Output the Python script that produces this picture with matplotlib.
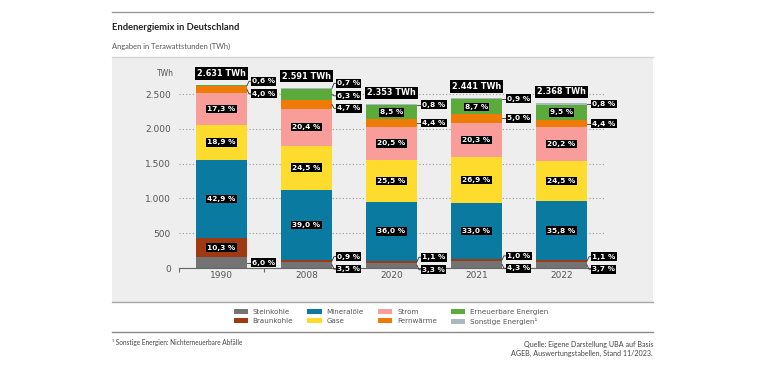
import numpy as np
import matplotlib.pyplot as plt
from matplotlib.patches import Rectangle, Patch
from matplotlib.lines import Line2D

# Endenergiemix in Deutschland, Anteile in % und Summe in TWh
years = ['1990', '2008', '2020', '2021', '2022']
totals = [2631, 2591, 2353, 2441, 2368]

sources = ['Steinkohle', 'Braunkohle', 'Mineralöle', 'Gase', 'Strom',
           'Fernwärme', 'Erneuerbare Energien', 'Sonstige Energien\u00b9']
steinkohle = [6.0, 3.5, 3.3, 4.3, 3.7]
braunkohle = [10.3, 0.9, 1.1, 1.0, 1.1]
mineraloele = [42.9, 39.0, 36.0, 33.0, 35.8]
gase = [18.9, 24.5, 25.5, 26.9, 24.5]
strom = [17.3, 20.4, 20.5, 20.3, 20.2]
fernwaerme = [4.0, 4.7, 4.4, 5.0, 4.4]
erneuerbare = [0.6, 6.3, 8.5, 8.7, 9.5]
sonstige = [0.0, 0.7, 0.8, 0.9, 0.8]

shares = [steinkohle, braunkohle, mineraloele, gase, strom, fernwaerme, erneuerbare, sonstige]
colors = ['#737373', '#9e3912', '#0a7aa1', '#fddc2e', '#f99d9b',
          '#ee7b05', '#5caa3b', '#a9b9c0']

W, H = 770, 385
def fx(px):
    return px / W
def fy(py):
    return 1 - py / H

fig = plt.figure(figsize=(W / 100, H / 100), dpi=100)
fig.patch.set_facecolor('white')

# grey panel behind the chart
fig.add_artist(Rectangle((fx(112), fy(302)), fx(653) - fx(112), (302 - 57) / H,
                         transform=fig.transFigure, fc='#eeeeee', ec='none', zorder=0))
for py, c in [(12, '#9a9a9a'), (57, '#d4d4d4'), (302, '#a8a8a8'), (332, '#8a8a8a')]:
    fig.add_artist(Line2D([fx(112), fx(653)], [fy(py), fy(py)], transform=fig.transFigure,
                          color=c, lw=1.0))

fig.text(fx(112), fy(27), 'Endenergiemix in Deutschland', fontsize=6.75, fontweight='bold',
         family='Lato', color='#222222', va='center')
fig.text(fx(112), fy(46), 'Angaben in Terawattstunden (TWh)', fontsize=5.45,
         family='Lato', color='#555555', va='center')

ax = fig.add_axes([179 / W, 117 / H, 425 / W, 208.8 / H])
ax.patch.set_alpha(0)
ax.set_xlim(-0.5, 4.5)
ax.set_ylim(0, 3000)
for s in ['top', 'right', 'left']:
    ax.spines[s].set_visible(False)
ax.spines['bottom'].set_color('#666666')
ax.spines['bottom'].set_linewidth(0.8)

yt = [0, 500, 1000, 1500, 2000, 2500]
ax.set_yticks(yt)
ax.set_yticklabels([f'{v:,}'.replace(',', '.') for v in yt], fontsize=6.5, color='#555555')
ax.tick_params(axis='y', length=0, pad=6)
ax.yaxis.grid(True, ls=(0, (1, 2)), color='#9a9a9a', lw=0.8)
ax.set_axisbelow(True)
ax.text(-5 / 425, 2800, 'TWh', transform=ax.get_yaxis_transform(), ha='right', va='center',
        fontsize=5.5, color='#555555')

x = np.arange(len(years))
ax.set_xticks(x)
ax.set_xticklabels(years, fontsize=6.5, color='#555555')
ax.set_xticks(np.arange(-0.5, 5, 1), minor=True)
ax.tick_params(axis='x', which='major', length=0, pad=2.5)
ax.tick_params(axis='x', which='minor', length=3, color='#666666', width=0.8)

bw = 0.6
px_x = 1 / 85.0
px_y = 3000 / 208.8
lab_kw = dict(fontsize=5.3, fontweight='bold', color='white', va='center',
              bbox=dict(boxstyle='square,pad=0.18', fc='black', ec='none'))

bottoms = np.zeros(len(years))
seg = []
for k, vals in enumerate(shares):
    h = np.array(vals) / 100 * np.array(totals)
    ax.bar(x, h, bottom=bottoms, width=bw, color=colors[k], zorder=2, linewidth=0)
    seg.append((bottoms.copy(), h))
    bottoms += h


def spread(centers, gap):
    # clusters of overlapping labels are spread around their mean
    clusters = [[c] for c in centers]
    changed = True
    while changed:
        changed = False
        pos = []
        for cl in clusters:
            m = np.mean(cl)
            n = len(cl)
            pos.append([m + (j - (n - 1) / 2) * gap for j in range(n)])
        for j in range(len(clusters) - 1):
            if pos[j + 1][0] - pos[j][-1] < gap:
                clusters[j] = clusters[j] + clusters[j + 1]
                del clusters[j + 1]
                changed = True
                break
    return [p for pl in pos for p in pl]


gap = 12.5 * px_y
for i in range(len(years)):
    xr = x[i] + bw / 2
    outside = {'low': [], 'high': []}
    for k in range(len(shares)):
        b, h = seg[k][0][i], seg[k][1][i]
        if shares[k][i] <= 0:
            continue
        txt = f'{shares[k][i]:.1f}'.replace('.', ',') + ' %'
        yc = b + h / 2
        if h >= 180:
            ax.text(x[i], yc, txt, ha='center', zorder=4, **lab_kw)
        else:
            outside['low' if k < 2 else 'high'].append((yc, txt))
    for grp in outside.values():
        if not grp:
            continue
        grp.sort()
        ys = spread([g[0] for g in grp], gap)
        for (yc, txt), yl in zip(grp, ys):
            ax.plot([xr, xr + 2 * px_x, xr + 4 * px_x], [yc, yl, yl], color='#333333',
                    lw=0.6, zorder=3, clip_on=False)
            ax.text(xr + 5 * px_x, yl, txt, ha='left', zorder=4, clip_on=False, **lab_kw)
    ax.text(x[i], totals[i] + 165, f'{totals[i]:,}'.replace(',', '.') + ' TWh',
            ha='center', va='center', fontsize=5.9, fontweight='bold', color='white', zorder=4,
            bbox=dict(boxstyle='square,pad=0.2', fc='black', ec='none'))

handles = [Patch(fc=c, ec='none') for c in colors]
fig.legend(handles, sources, ncol=4, loc='center', bbox_to_anchor=(fx(391), fy(317)),
           frameon=False, fontsize=5.1, labelcolor='#555555', handlelength=2.0,
           handleheight=0.7, handletextpad=0.7, columnspacing=2.0, labelspacing=0.5)

fig.text(fx(112), fy(343), '\u00b9 Sonstige Energien: Nichterneuerbare Abfälle', fontsize=4.7,
         family='Lato', color='#444444', va='center')
fig.text(fx(653), fy(344), 'Quelle: Eigene Darstellung UBA auf Basis', fontsize=5.1,
         family='Lato', color='#444444', va='center', ha='right')
fig.text(fx(653), fy(353), 'AGEB, Auswertungstabellen, Stand 11/2023.', fontsize=5.1,
         family='Lato', color='#444444', va='center', ha='right')

fig.savefig('out.png', dpi=100)
